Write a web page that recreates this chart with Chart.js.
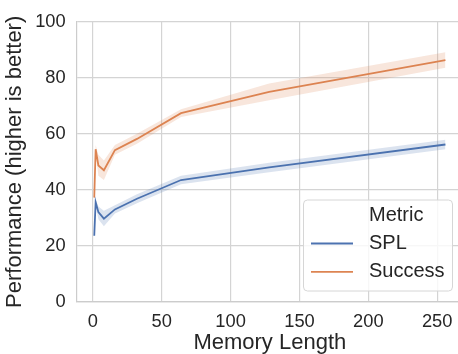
<!DOCTYPE html>
<html>
<head>
<meta charset="utf-8">
<script src="https://cdn.jsdelivr.net/npm/chart.js@4.4.0/dist/chart.umd.min.js"></script>
<style>
  html, body { margin: 0; padding: 0; background: #fff; overflow: hidden; }
  #wrap { width: 458px; height: 354px; overflow: hidden; }
</style>
</head>
<body>
<div id="wrap"><canvas id="chartData" width="463" height="354"></canvas></div>
<script>
var memLen = [1, 2, 4, 8, 16, 32, 64, 128, 256];
var splMean = [23.6, 35.6, 32.0, 29.7, 33.0, 36.8, 43.5, 48.0, 56.2];
var splLow = [23.0, 34.6, 29.5, 27.0, 31.5, 35.2, 42.0, 46.3, 54.5];
var splHigh = [24.2, 36.6, 34.0, 32.5, 34.5, 38.4, 45.0, 49.7, 57.9];
var succMean = [37.2, 54.5, 48.7, 47.0, 54.2, 58.2, 67.4, 75.0, 86.4];
var succLow = [36.5, 53.0, 45.0, 43.5, 52.5, 56.5, 66.0, 72.0, 83.6];
var succHigh = [37.9, 56.0, 52.5, 50.5, 56.0, 60.0, 68.8, 78.0, 89.2];
var xTicks = [0, 50, 100, 150, 200, 250];
var yTicks = [0, 20, 40, 60, 80, 100];
var legendTitle = 'Metric';
var legendNames = ['SPL', 'Success'];

var blue = '#4c72b0';
var orange = '#dd8452';
var fontFam = '"Liberation Sans", Arial, sans-serif';

function pts(ys) {
    return memLen.map((x, i) => ({ x: x, y: ys[i] }));
}

// legend box drawn by hand, placed like the matplotlib one
var legendBox = {
    id: 'legendBox',
    afterDraw(chart) {
        const c = chart.ctx;
        c.save();
        const x = 303.5, y = 200, w = 149, h = 91, r = 4;
        c.beginPath();
        c.moveTo(x + r, y);
        c.arcTo(x + w, y, x + w, y + h, r);
        c.arcTo(x + w, y + h, x, y + h, r);
        c.arcTo(x, y + h, x, y, r);
        c.arcTo(x, y, x + w, y, r);
        c.closePath();
        c.fillStyle = 'rgba(255,255,255,0.8)';
        c.fill();
        c.strokeStyle = '#d6d6d6';
        c.lineWidth = 1;
        c.stroke();

        c.font = '20px ' + fontFam;
        c.fillStyle = '#262626';
        c.textBaseline = 'middle';
        c.fillText(legendTitle, 369, 215);
        [blue, orange].forEach((col, i) => {
            const ly = 243.5 + i * 28.3;
            c.strokeStyle = col;
            c.lineWidth = 1.8;
            c.beginPath();
            c.moveTo(311, ly);
            c.lineTo(353, ly);
            c.stroke();
            c.fillText(legendNames[i], 369, ly);
        });
        c.restore();
    }
};

var ctx = document.getElementById('chartData').getContext('2d');
var chartData = new Chart(ctx, {
    type: 'line',
    data: {
        datasets: [{
            data: pts(splLow),
            borderWidth: 0,
            pointRadius: 0,
            fill: false
        }, {
            data: pts(splHigh),
            borderWidth: 0,
            pointRadius: 0,
            backgroundColor: 'rgba(76, 114, 176, 0.2)',
            fill: '-1'
        }, {
            data: pts(succLow),
            borderWidth: 0,
            pointRadius: 0,
            fill: false
        }, {
            data: pts(succHigh),
            borderWidth: 0,
            pointRadius: 0,
            backgroundColor: 'rgba(221, 132, 82, 0.2)',
            fill: '-1'
        }, {
            label: 'SPL',
            data: pts(splMean),
            borderColor: blue,
            borderWidth: 1.8,
            pointRadius: 0,
            fill: false
        }, {
            label: 'Success',
            data: pts(succMean),
            borderColor: orange,
            borderWidth: 1.8,
            pointRadius: 0,
            fill: false
        }]
    },
    options: {
        responsive: false,
        animation: false,
        layout: { padding: { top: 14.3, left: 0, right: 0, bottom: 0 } },
        plugins: {
            legend: { display: false },
            tooltip: { enabled: false }
        },
        scales: {
            x: {
                type: 'linear',
                min: -11.75,
                max: 268.75,
                afterBuildTicks: (s) => { s.ticks = xTicks.map(v => ({ value: v })); },
                afterFit: (s) => { s.height = 52.3; },
                grid: { color: '#d4d4d4', lineWidth: 1.2, drawTicks: false },
                border: { color: '#cccccc', width: 1.2 },
                ticks: { color: '#262626', padding: 9, font: { size: 18.3, family: fontFam } },
                title: {
                    display: true,
                    text: 'Memory Length',
                    color: '#262626',
                    font: { size: 22, family: fontFam, lineHeight: 1.0 },
                    padding: { top: 0, bottom: 0 }
                }
            },
            y: {
                min: 0,
                max: 100,
                afterBuildTicks: (s) => { s.ticks = yTicks.map(v => ({ value: v })); },
                afterFit: (s) => { s.width = 76.7; },
                grid: { color: '#d4d4d4', lineWidth: 1.2, drawTicks: false },
                border: { color: '#cccccc', width: 1.2 },
                ticks: { color: '#262626', padding: 11, font: { size: 18.3, family: fontFam } },
                title: {
                    display: true,
                    text: 'Performance (higher is better)',
                    color: '#262626',
                    font: { size: 22, family: fontFam },
                    padding: { top: 2, bottom: 0 }
                }
            }
        }
    },
    plugins: [legendBox]
});
</script>
</body>
</html>
